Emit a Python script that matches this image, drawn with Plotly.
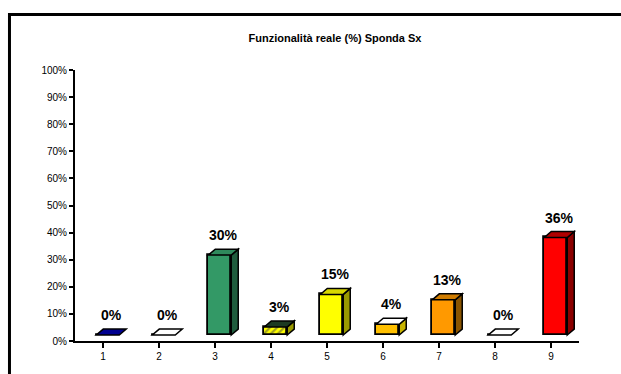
import plotly.graph_objects as go

# ---- data ----
categories = ["1", "2", "3", "4", "5", "6", "7", "8", "9"]
values = [0, 0, 29.5, 3, 15, 4, 13, 0, 36]
labels = ["0%", "0%", "30%", "3%", "15%", "4%", "13%", "0%", "36%"]
y_ticks = [0, 10, 20, 30, 40, 50, 60, 70, 80, 90, 100]
y_tick_labels = ["0%", "10%", "20%", "30%", "40%", "50%", "60%", "70%", "80%", "90%", "100%"]

# ---- style ----
front_colors = ["#00007F", "#FFFFFF", "#339966", "#FFFF00", "#FFFF00",
                "#FFC000", "#FF9900", "#FF5A1E", "#FF0000"]
top_colors = ["#000090", "#FFFFFF", "#2F8A5C", "#1C3A22", "#D8D800",
              "#FFFFFF", "#D07C00", "#FFFFFF", "#B00000"]
side_colors = ["#000060", "#3050B0", "#1F5C3D", "#9A9A00", "#9A9A00",
               "#C8B400", "#8A5400", "#C04000", "#8B0000"]
pattern_shapes = ["", "", "", "/", "", "", "", "", ""]
pattern_fg = ["#000000", "#000000", "#000000", "#2E8B57", "#000000",
              "#000000", "#000000", "#000000", "#000000"]

BAR_W = 0.41       # front face width (category units)
BAR_OFF = -0.12    # left edge of front relative to category centre
FLOOR = 2.2        # 3D floor lift (% units)
DX = 0.125         # depth in x (category units)
DY = 2.2           # depth in y (% units)
FONT = "Liberation Sans, Arial, sans-serif"

xs = list(range(len(categories)))

fig = go.Figure()
fig.add_trace(go.Bar(
    x=xs, y=values, base=FLOOR, width=BAR_W, offset=BAR_OFF,
    marker=dict(color=front_colors, line=dict(color="black", width=1.8),
                pattern=dict(shape=pattern_shapes, fgcolor=pattern_fg,
                             size=5, solidity=0.45)),
    hoverinfo="skip", showlegend=False,
))

shapes = []
annotations = []
for i, v in enumerate(values):
    x0 = i + BAR_OFF
    x1 = x0 + BAR_W
    b = FLOOR
    t = FLOOR + v
    # side face
    if v > 0:
        shapes.append(dict(
            type="path", xref="x", yref="y",
            path=f"M {x1},{b} L {x1+DX},{b+DY} L {x1+DX},{t+DY} L {x1},{t} Z",
            fillcolor=side_colors[i], line=dict(color="black", width=1.5)))
    # top face
    shapes.append(dict(
        type="path", xref="x", yref="y",
        path=f"M {x0},{t} L {x1},{t} L {x1+DX},{t+DY} L {x0+DX},{t+DY} Z",
        fillcolor=top_colors[i], line=dict(color="black", width=1.5)))
    annotations.append(dict(
        x=(x0 + x1 + DX) / 2, y=t + DY, xref="x", yref="y",
        text=f"<b>{labels[i]}</b>", showarrow=False, yanchor="bottom",
        yshift=4, font=dict(family=FONT, size=14, color="black")))

# outer chart frame
shapes.append(dict(type="rect", xref="paper", yref="paper",
                   x0=-0.130, y0=-1.0, x1=2.0, y1=1.205,
                   line=dict(color="black", width=3), fillcolor="rgba(0,0,0,0)",
                   layer="below"))

fig.update_layout(
    width=621, height=374,
    margin=dict(l=75, r=42, t=70, b=31),
    paper_bgcolor="white", plot_bgcolor="white",
    title=dict(text="<b>Funzionalità reale (%) Sponda Sx</b>",
               x=335 / 621, xanchor="center", y=1 - 38 / 374, yanchor="middle",
               font=dict(family=FONT, size=11, color="black")),
    xaxis=dict(range=[-0.5, len(categories) - 0.5],
               tickmode="array", tickvals=xs, ticktext=categories,
               ticks="outside", tickson="boundaries", ticklen=5, tickwidth=2,
               tickcolor="black", showline=True, linecolor="black", linewidth=2,
               showgrid=False, zeroline=False,
               tickfont=dict(family=FONT, size=10, color="black")),
    yaxis=dict(range=[0, 100], tickmode="array", tickvals=y_ticks,
               ticktext=y_tick_labels, ticks="outside", ticklen=4, tickwidth=2,
               tickcolor="black", showline=True, linecolor="black", linewidth=2,
               showgrid=False, zeroline=False,
               tickfont=dict(family=FONT, size=10, color="black")),
    shapes=shapes,
    annotations=annotations,
    bargap=0,
)

fig.write_html("out.html")
